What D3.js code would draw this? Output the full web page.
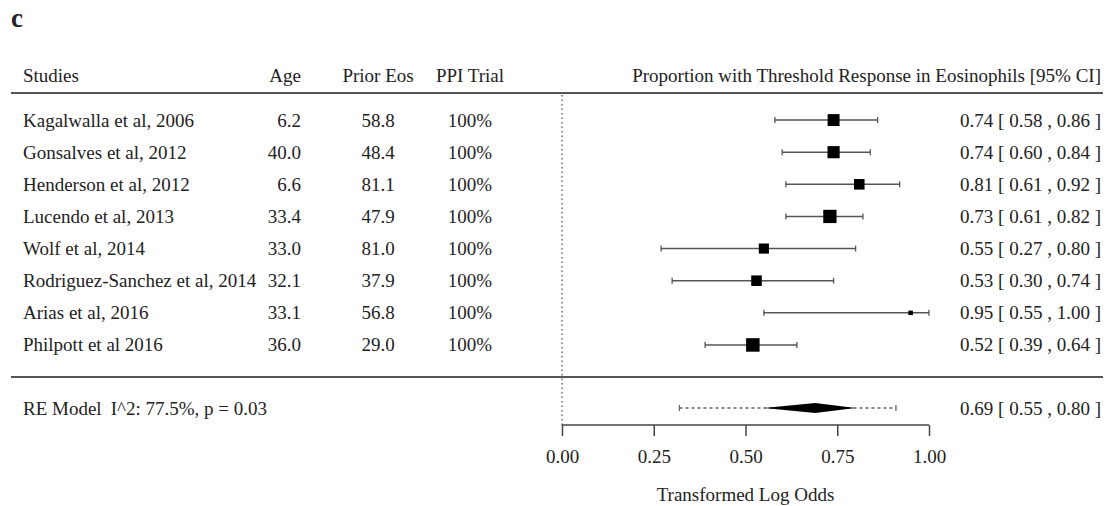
<!DOCTYPE html>
<html>
<head>
<meta charset="utf-8">
<script src="https://cdn.jsdelivr.net/npm/d3@7"></script>
<style>
  html, body { margin: 0; padding: 0; background: #fff; }
  svg { display: block; }
  text { font-family: "Liberation Serif", "Times New Roman", serif; fill: #222; }
</style>
</head>
<body>
<svg id="chart" width="1115" height="506"></svg>
<script>
// ---- data ----
const studies = ["Kagalwalla et al, 2006", "Gonsalves et al, 2012", "Henderson et al, 2012",
  "Lucendo et al, 2013", "Wolf et al, 2014", "Rodriguez-Sanchez et al, 2014",
  "Arias et al, 2016", "Philpott et al 2016"];
const age = ["6.2", "40.0", "6.6", "33.4", "33.0", "32.1", "33.1", "36.0"];
const priorEos = ["58.8", "48.4", "81.1", "47.9", "81.0", "37.9", "56.8", "29.0"];
const ppiTrial = ["100%", "100%", "100%", "100%", "100%", "100%", "100%", "100%"];
const estimate = [0.74, 0.74, 0.81, 0.73, 0.55, 0.53, 0.95, 0.52];
const ciLower = [0.58, 0.60, 0.61, 0.61, 0.27, 0.30, 0.55, 0.39];
const ciUpper = [0.86, 0.84, 0.92, 0.82, 0.80, 0.74, 1.00, 0.64];
const weights = [13.6, 13.8, 12.4, 14.8, 12.0, 12.4, 7.0, 15.0];
const reModel = { label: "RE Model", stat: "I^2: 77.5%, p = 0.03", est: 0.69, lower: 0.55, upper: 0.80, piLower: 0.32, piUpper: 0.91 };
const tickValues = [0, 0.25, 0.5, 0.75, 1.0];
const headers = ["Studies", "Age", "Prior Eos", "PPI Trial", "Proportion with Threshold Response in Eosinophils [95% CI]"];
const xTitle = "Transformed Log Odds";
const panelLabel = "c";

// ---- layout ----
const svg = d3.select("#chart");
const fs = 19;
const x = d3.scaleLinear().domain([0, 1]).range([562, 929]);
const y = d3.scaleBand().domain(d3.range(studies.length)).range([104, 361]).paddingInner(0).paddingOuter(0);
const yc = i => y(i) + y.bandwidth() / 2;
const sz = d3.scaleLinear().domain([d3.min(weights), d3.max(weights)]).range([4.5, 13.5]);
const fmt = d3.format(".2f");
const ciText = (e, l, u) => `${fmt(e)} [ ${fmt(l)} , ${fmt(u)} ]`;

const colStudy = 23, colAge = 301, colEos = 378, colPPI = 470, colCI = 1101;
const headerY = 82, lineTop = 93, lineBottom = 377, reY = 408, axisY = 425;

// panel label
svg.append("text").attr("x", 11).attr("y", 27).style("font-size", "27px").style("font-weight", "bold").text(panelLabel);

// headers
const hx = [colStudy, colAge, colEos, colPPI, colCI];
const ha = ["start", "end", "middle", "middle", "end"];
headers.forEach((h, i) => {
  svg.append("text").attr("x", hx[i]).attr("y", headerY).attr("text-anchor", ha[i])
    .style("font-size", fs + "px").text(h);
});

// separator lines
[lineTop, lineBottom].forEach(ly => {
  svg.append("line").attr("x1", 11).attr("x2", 1103).attr("y1", ly).attr("y2", ly)
    .attr("stroke", "#555").attr("stroke-width", 1.8);
});

// reference dotted line at 0
svg.append("line").attr("x1", x(0)).attr("x2", x(0)).attr("y1", lineTop + 2).attr("y2", axisY)
  .attr("stroke", "#555").attr("stroke-width", 1.3).attr("stroke-dasharray", "1.5,3");

// rows
const rows = svg.append("g").selectAll("g").data(studies).join("g");
const ty = i => yc(i) + 6.5;
rows.append("text").attr("x", colStudy).attr("y", (d, i) => ty(i)).style("font-size", fs + "px").text(d => d);
rows.append("text").attr("x", colAge).attr("y", (d, i) => ty(i)).attr("text-anchor", "end").style("font-size", fs + "px").text((d, i) => age[i]);
rows.append("text").attr("x", colEos).attr("y", (d, i) => ty(i)).attr("text-anchor", "middle").style("font-size", fs + "px").text((d, i) => priorEos[i]);
rows.append("text").attr("x", colPPI).attr("y", (d, i) => ty(i)).attr("text-anchor", "middle").style("font-size", fs + "px").text((d, i) => ppiTrial[i]);
rows.append("text").attr("x", colCI).attr("y", (d, i) => ty(i)).attr("text-anchor", "end").style("font-size", fs + "px")
  .text((d, i) => ciText(estimate[i], ciLower[i], ciUpper[i]));

// CI lines
rows.append("line").attr("x1", (d, i) => x(ciLower[i])).attr("x2", (d, i) => x(ciUpper[i]))
  .attr("y1", (d, i) => yc(i)).attr("y2", (d, i) => yc(i)).attr("stroke", "#555").attr("stroke-width", 1.5);
rows.append("line").attr("x1", (d, i) => x(ciLower[i])).attr("x2", (d, i) => x(ciLower[i]))
  .attr("y1", (d, i) => yc(i) - 3).attr("y2", (d, i) => yc(i) + 3).attr("stroke", "#555").attr("stroke-width", 1.3);
rows.append("line").attr("x1", (d, i) => x(ciUpper[i])).attr("x2", (d, i) => x(ciUpper[i]))
  .attr("y1", (d, i) => yc(i) - 3).attr("y2", (d, i) => yc(i) + 3).attr("stroke", "#555").attr("stroke-width", 1.3);
rows.append("rect")
  .attr("x", (d, i) => x(estimate[i]) - sz(weights[i]) / 2)
  .attr("y", (d, i) => yc(i) - sz(weights[i]) / 2)
  .attr("width", (d, i) => sz(weights[i])).attr("height", (d, i) => sz(weights[i]))
  .attr("fill", "#000");

// RE model
svg.append("text").attr("x", colStudy).attr("y", reY + 6.5).style("font-size", fs + "px")
  .text(reModel.label).append("tspan").attr("dx", 9).text(reModel.stat);
svg.append("text").attr("x", colCI).attr("y", reY + 6.5).attr("text-anchor", "end").style("font-size", fs + "px")
  .text(ciText(reModel.est, reModel.lower, reModel.upper));
svg.append("line").attr("x1", x(reModel.piLower)).attr("x2", x(reModel.piUpper)).attr("y1", reY).attr("y2", reY)
  .attr("stroke", "#666").attr("stroke-width", 1.3).attr("stroke-dasharray", "3,3");
[reModel.piLower, reModel.piUpper].forEach(v => {
  svg.append("line").attr("x1", x(v)).attr("x2", x(v)).attr("y1", reY - 3).attr("y2", reY + 3)
    .attr("stroke", "#666").attr("stroke-width", 1.3);
});
svg.append("path")
  .attr("d", `M${x(reModel.lower)},${reY} L${x(reModel.est)},${reY - 5} L${x(reModel.upper)},${reY} L${x(reModel.est)},${reY + 5} Z`)
  .attr("fill", "#000");

// axis
const axis = d3.axisBottom(x).tickValues(tickValues).tickFormat(fmt).tickSize(11).tickPadding(14);
const ag = svg.append("g").attr("transform", `translate(0,${axisY})`).call(axis);
ag.select(".domain").attr("stroke", "#444").attr("stroke-width", 1.5).attr("d", `M${x(0)},0H${x(1)}`);
ag.selectAll(".tick line").attr("stroke", "#444").attr("stroke-width", 1.5);
ag.selectAll(".tick text").style("font-family", '"Liberation Serif", serif').style("font-size", fs + "px").attr("fill", "#222");

svg.append("text").attr("x", (x(0) + x(1)) / 2).attr("y", 501).attr("text-anchor", "middle")
  .style("font-size", fs + "px").text(xTitle);
</script>
</body>
</html>
